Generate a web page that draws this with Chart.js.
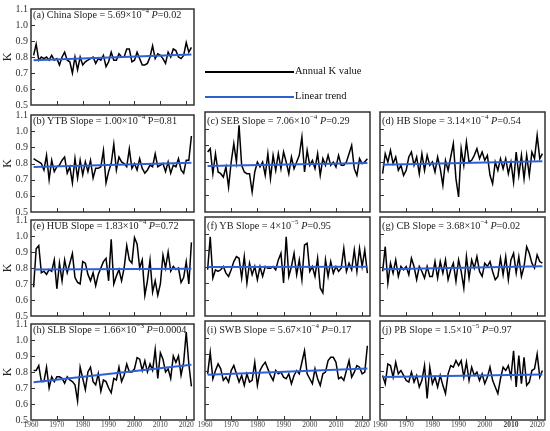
<!DOCTYPE html>
<html>
<head>
<meta charset="utf-8">
<script src="https://cdn.jsdelivr.net/npm/chart.js@4.4.1/dist/chart.umd.min.js"></script>
<style>
  html,body{margin:0;padding:0;background:#fff;}
  body{width:550px;height:431px;position:relative;overflow:hidden;font-family:"Liberation Serif","Times New Roman",serif;}
  .pane{position:absolute;}
  .lbl{position:absolute;font-size:10.2px;color:#222;white-space:nowrap;line-height:12px;}
  .lbl sup{font-size:7px;vertical-align:5px;line-height:0;}
  .leg{position:absolute;font-size:10.5px;color:#111;white-space:nowrap;line-height:12px;}
</style>
</head>
<body>
<script>
// ---------------- DATA ----------------
const years = Array.from({length: 62}, (_, i) => 1961 + i); // 1961..2022
const xTicks = [1960, 1970, 1980, 1990, 2000, 2010, 2020];
const yTicks = [0.5, 0.6, 0.7, 0.8, 0.9, 1.0, 1.1];

const china = [0.81,0.88,0.78,0.80,0.79,0.80,0.78,0.81,0.78,0.79,
  0.75,0.80,0.83,0.78,0.77,0.70,0.80,0.72,0.80,0.75,
  0.77,0.78,0.79,0.80,0.76,0.79,0.78,0.81,0.74,0.77,
  0.83,0.78,0.78,0.82,0.80,0.80,0.85,0.85,0.77,0.78,
  0.83,0.79,0.75,0.75,0.76,0.80,0.87,0.79,0.82,0.81,
  0.79,0.76,0.83,0.80,0.85,0.84,0.80,0.79,0.81,0.89,
  0.83,0.86];
const ytb = [0.83,0.82,0.81,0.80,0.76,0.85,0.70,0.82,0.75,0.78,
  0.79,0.82,0.84,0.74,0.78,0.68,0.83,0.71,0.82,0.73,
  0.81,0.75,0.82,0.71,0.77,0.77,0.78,0.88,0.68,0.75,
  0.80,0.92,0.76,0.84,0.81,0.80,0.78,0.89,0.77,0.80,
  0.76,0.83,0.77,0.74,0.76,0.79,0.78,0.86,0.78,0.79,
  0.80,0.75,0.81,0.74,0.79,0.78,0.83,0.76,0.74,0.82,
  0.82,0.97];
const seb = [0.86,0.88,0.73,0.85,0.74,0.73,0.71,0.77,0.65,0.80,
  0.91,0.80,1.02,0.78,0.74,0.73,0.73,0.62,0.74,0.80,
  0.77,0.80,0.72,0.85,0.70,0.84,0.75,0.85,0.76,0.86,
  0.80,0.73,0.83,0.76,0.80,0.84,0.95,0.74,0.87,0.78,
  0.81,0.76,0.85,0.72,0.82,0.78,0.84,0.78,0.80,0.77,
  0.84,0.78,0.78,0.80,0.85,0.90,0.76,0.72,0.82,0.79,
  0.80,0.82];
const hb = [0.73,0.85,0.80,0.87,0.79,0.83,0.75,0.78,0.72,0.75,
  0.83,0.86,0.78,0.83,0.73,0.85,0.75,0.84,0.78,0.80,
  0.74,0.83,0.76,0.66,0.81,0.75,0.83,0.91,0.70,0.59,
  0.88,0.78,0.92,0.80,0.81,0.84,0.88,0.82,0.86,0.81,
  0.84,0.72,0.67,0.80,0.75,0.82,0.76,0.82,0.73,0.80,
  0.68,0.86,0.72,0.84,0.70,0.84,0.72,0.86,0.82,0.96,
  0.82,0.85];
const hub = [0.68,0.92,0.94,0.77,0.78,0.76,0.79,0.78,0.85,0.67,
  0.83,0.72,0.85,0.77,0.83,0.89,0.74,0.71,0.70,0.84,
  0.83,0.76,0.72,0.77,0.69,0.76,0.80,0.84,0.86,0.72,
  0.98,0.70,0.75,0.79,0.72,0.80,0.94,0.85,0.83,0.99,
  0.95,0.80,0.85,0.63,0.72,0.85,0.65,0.72,0.63,0.70,
  0.88,0.80,0.90,0.78,0.81,0.79,0.80,0.71,0.74,0.84,
  0.70,0.96];
const yb = [0.78,0.98,0.73,0.78,0.77,0.78,0.80,0.76,0.74,0.78,
  0.83,0.86,0.85,0.73,0.86,0.70,0.82,0.75,0.80,0.72,
  0.80,0.74,0.80,0.79,0.79,0.80,0.78,0.84,0.88,0.70,
  0.98,0.74,0.80,0.88,0.75,0.84,0.72,0.93,0.94,0.77,
  0.80,0.74,0.85,0.67,0.64,0.84,0.74,0.83,0.76,0.80,
  0.77,0.79,0.91,0.77,0.82,0.78,0.90,0.77,0.91,0.80,
  0.90,0.76];
const cb = [0.77,0.92,0.70,0.82,0.76,0.84,0.74,0.80,0.78,0.80,
  0.75,0.85,0.80,0.72,0.80,0.77,0.73,0.80,0.74,0.74,
  0.83,0.73,0.83,0.76,0.84,0.72,0.78,0.82,0.71,0.84,
  0.77,0.67,0.86,0.73,0.84,0.79,0.86,0.77,0.74,0.82,
  0.80,0.83,0.77,0.72,0.74,0.85,0.75,0.86,0.72,0.84,
  0.88,0.76,0.86,0.74,0.80,0.92,0.88,0.82,0.79,0.87,
  0.83,0.82];
const slb = [0.81,0.81,0.84,0.74,0.74,0.83,0.70,0.77,0.74,0.77,
  0.77,0.76,0.73,0.77,0.75,0.74,0.72,0.62,0.83,0.76,
  0.69,0.80,0.83,0.74,0.72,0.79,0.68,0.75,0.74,0.70,
  0.67,0.76,0.75,0.83,0.74,0.78,0.85,0.80,0.80,0.82,
  0.89,0.88,0.81,0.87,0.80,0.85,0.81,0.94,0.76,0.92,
  0.88,0.80,0.82,0.76,0.90,0.86,0.90,0.78,0.86,1.05,
  0.85,0.71];
const swb = [0.78,0.91,0.75,0.80,0.84,0.81,0.74,0.76,0.73,0.80,
  0.83,0.78,0.73,0.77,0.71,0.78,0.73,0.74,0.85,0.71,
  0.80,0.83,0.85,0.81,0.77,0.74,0.80,0.78,0.79,0.76,
  0.75,0.78,0.72,0.77,0.80,0.78,0.85,0.92,0.78,0.75,
  0.72,0.81,0.75,0.71,0.78,0.79,0.86,0.88,0.88,0.85,
  0.75,0.76,0.74,0.80,0.86,0.76,0.79,0.83,0.82,0.78,
  0.79,0.95];
const pb = [0.77,0.72,0.84,0.83,0.76,0.85,0.78,0.80,0.77,0.74,
  0.73,0.79,0.73,0.77,0.70,0.74,0.83,0.63,0.82,0.72,
  0.76,0.70,0.77,0.71,0.66,0.78,0.83,0.82,0.86,0.83,
  0.86,0.76,0.85,0.74,0.82,0.77,0.79,0.74,0.78,0.72,
  0.76,0.82,0.74,0.70,0.66,0.75,0.82,0.80,0.83,0.76,
  0.92,0.70,0.89,0.72,0.88,0.71,0.73,0.80,0.81,0.90,
  0.76,0.80];

const seriesList = [china, ytb, seb, hb, hub, yb, cb, slb, swb, pb];
// linear trend end values (1961, 2022)
const trendStart = [0.780, 0.778, 0.776, 0.784, 0.790, 0.797, 0.784, 0.736, 0.774, 0.760];
const trendEnd   = [0.815, 0.804, 0.794, 0.804, 0.795, 0.798, 0.802, 0.846, 0.812, 0.776];

const panelNames = ['(a) China', '(b) YTB', '(c) SEB', '(d) HB', '(e) HUB', '(f) YB', '(g) CB', '(h) SLB', '(i) SWB', '(j) PB'];
const slopeMant = ['5.69', '1.00', '7.06', '3.14', '1.83', '4', '3.68', '1.66', '5.67', '1.5'];
const slopeExp  = ['−4', '−4', '−4', '−4', '−4', '−5', '−4', '−3', '−4', '−5'];
const pValues   = ['0.02', '0.81', '0.29', '0.54', '0.72', '0.95', '0.02', '0.0004', '0.17', '0.97'];
const pItalic   = [true, false, true, true, true, true, true, true, true, true];

// ---------------- LAYOUT ----------------
const cols = [[31, 194], [205, 370], [380, 545]];
const rows = [[6, 105], [112, 212], [217, 316], [321, 420]];
const place = [[0,0],[1,0],[1,1],[1,2],[2,0],[2,1],[2,2],[3,0],[3,1],[3,2]]; // [row, col]
const L = 30, T = 6, R = 4, B = 14;
const FONT = '"Liberation Serif", "Times New Roman", serif';

const framePlugin = {
  id: 'frame',
  afterDatasetsDraw(chart) {
    const {ctx, chartArea: a, scales: {x, y}} = chart;
    ctx.save();
    ctx.strokeStyle = '#333';
    ctx.lineWidth = 1;
    ctx.beginPath();
    x.ticks.forEach(t => {
      const px = Math.round(x.getPixelForValue(t.value)) + 0.5;
      if (px > a.left + 2 && px < a.right - 2) { ctx.moveTo(px, a.bottom); ctx.lineTo(px, a.bottom - 4); }
    });
    y.ticks.forEach(t => {
      const py = Math.round(y.getPixelForValue(t.value)) + 0.5;
      if (py > a.top + 2 && py < a.bottom - 2) { ctx.moveTo(a.left, py); ctx.lineTo(a.left + 4, py); }
    });
    ctx.stroke();
    ctx.lineWidth = 1.5;
    ctx.strokeRect(a.left, a.top, a.right - a.left, a.bottom - a.top);
    ctx.restore();
  }
};

place.forEach(([r, c], i) => {
  const [x0, x1] = cols[c];
  const [y0, y1] = rows[r];
  const W = (x1 - x0) + L + R, H = (y1 - y0) + T + B;
  const div = document.createElement('div');
  div.className = 'pane';
  div.style.left = (x0 - L) + 'px';
  div.style.top = (y0 - T) + 'px';
  div.style.width = W + 'px';
  div.style.height = H + 'px';
  const cv = document.createElement('canvas');
  div.appendChild(cv);
  document.body.appendChild(div);

  const leftCol = c === 0;
  const bottomRow = r === 3;
  const isJ = i === 9;

  new Chart(cv, {
    type: 'line',
    data: {
      datasets: [
        {
          label: 'Linear trend',
          data: [{x: years[0], y: trendStart[i]}, {x: years[years.length - 1], y: trendEnd[i]}],
          borderColor: '#2f5fd6', borderWidth: 2, pointRadius: 0, tension: 0, order: 0
        },
        {
          label: 'Annual K value',
          data: years.map((yr, k) => ({x: yr, y: seriesList[i][k]})),
          borderColor: '#000', borderWidth: 1.5, pointRadius: 0, tension: 0, order: 1,
          borderJoinStyle: 'miter'
        }
      ]
    },
    options: {
      responsive: true, maintainAspectRatio: false, animation: false,
      devicePixelRatio: 1,
      layout: {padding: {left: 0, top: T, right: R, bottom: 0}},
      plugins: {legend: {display: false}, tooltip: {enabled: false}},
      scales: {
        x: {
          type: 'linear', min: 1960, max: 2023,
          afterBuildTicks: s => { s.ticks = xTicks.map(v => ({value: v})); },
          afterFit: s => { s.height = B; },
          grid: {display: false, drawTicks: false}, border: {display: false},
          ticks: {
            display: bottomRow, autoSkip: false, maxRotation: 0, padding: 1,
            color: '#444',
            font: ctx => ({family: FONT, size: 7.5, weight: (isJ && ctx.tick && ctx.tick.value === 2010) ? 'bold' : 'normal'}),
            callback: v => String(v)
          }
        },
        y: {
          min: 0.5, max: 1.1,
          afterBuildTicks: s => { s.ticks = yTicks.map(v => ({value: v})); },
          afterFit: s => { s.width = L; },
          grid: {display: false, drawTicks: false}, border: {display: false},
          ticks: {
            display: leftCol, padding: 3, color: '#333',
            font: {family: FONT, size: 10},
            callback: v => Number(v).toFixed(1)
          },
          title: {display: leftCol, text: 'K', color: '#222', font: {family: FONT, size: 12}, padding: {top: 0, bottom: 2}}
        }
      }
    },
    plugins: [framePlugin]
  });

  const lbl = document.createElement('div');
  lbl.className = 'lbl';
  lbl.style.left = (x0 + 2) + 'px';
  lbl.style.top = (y0 + 3) + 'px';
  lbl.innerHTML = panelNames[i] + ' Slope = ' + slopeMant[i] + '×10<sup>' + slopeExp[i] + '</sup> ' +
    (pItalic[i] ? '<i>P</i>' : 'P') + '=' + pValues[i];
  document.body.appendChild(lbl);
});

// legend (HTML)
const legendItems = [
  {text: 'Annual K value', color: '#000', width: 2, y: 72},
  {text: 'Linear trend', color: '#2f5fd6', width: 1.5, y: 97}
];
legendItems.forEach(it => {
  const ln = document.createElement('div');
  ln.style.cssText = `position:absolute;left:205px;top:${it.y - it.width / 2}px;width:89px;height:${it.width}px;background:${it.color};`;
  document.body.appendChild(ln);
  const tx = document.createElement('div');
  tx.className = 'leg';
  tx.style.left = '295px';
  tx.style.top = (it.y - 7) + 'px';
  tx.textContent = it.text;
  document.body.appendChild(tx);
});
</script>
</body>
</html>
